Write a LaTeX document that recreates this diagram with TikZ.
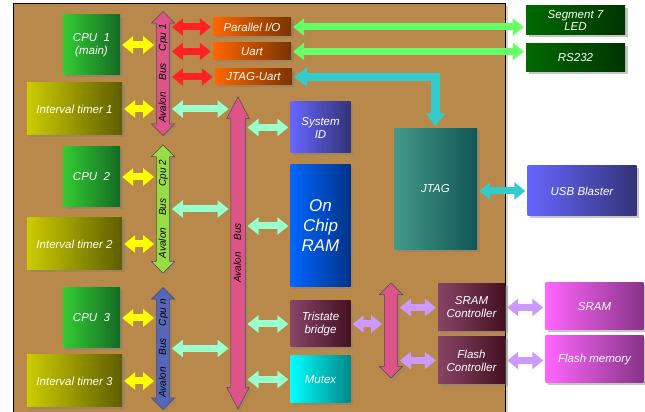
\documentclass[tikz,border=0pt]{standalone}
\usepackage{fontspec}
\setmainfont{Liberation Sans}
\usetikzlibrary{arrows.meta,shapes.arrows,shadows}

\definecolor{board}{HTML}{B8894B}
\definecolor{cpuL}{HTML}{33CC33}\definecolor{cpuR}{HTML}{146A24}
\definecolor{timL}{HTML}{CCCC00}\definecolor{timR}{HTML}{5E5E00}
\definecolor{ioL}{HTML}{FF6600}\definecolor{ioR}{HTML}{7A3300}
\definecolor{extL}{HTML}{006A00}\definecolor{extR}{HTML}{003300}
\definecolor{jtL}{HTML}{449988}\definecolor{jtR}{HTML}{115555}
\definecolor{idL}{HTML}{6666FF}\definecolor{idR}{HTML}{333377}
\definecolor{ramL}{HTML}{0066FF}\definecolor{ramR}{HTML}{003388}
\definecolor{ctlL}{HTML}{884466}\definecolor{ctlR}{HTML}{441122}
\definecolor{mxL}{HTML}{00FFFF}\definecolor{mxR}{HTML}{008888}
\definecolor{memL}{HTML}{FF66FF}\definecolor{memR}{HTML}{883388}
\definecolor{busPink}{HTML}{DD5588}
\definecolor{busGreen}{HTML}{99DD44}
\definecolor{busBlue}{HTML}{5566BB}
\definecolor{lnkYellow}{HTML}{FFFF00}
\definecolor{lnkRed}{HTML}{FF2222}
\definecolor{lnkGreen}{HTML}{66FF66}
\definecolor{lnkCyan}{HTML}{33CCCC}
\definecolor{lnkMint}{HTML}{99FFCC}
\definecolor{lnkLilac}{HTML}{CC99FF}

\tikzset{
  box/.style={inner sep=1pt, align=center, text=white,
    font=\itshape\fontsize{11.5}{13}\selectfont,
    drop shadow={shadow xshift=2.5pt, shadow yshift=-2.5pt, opacity=.45}},
  sz/.style 2 args={minimum width=#1pt, minimum height=#2pt},
  shade/.style 2 args={left color=#1, right color=#2},
  bus/.style={shape=double arrow, double arrow head extend=5pt, fill=#1,
    draw=black!70, line width=.5pt, rotate=90, inner sep=1.6pt,
    text height=7.6pt, text depth=2pt,
    font=\itshape\fontsize{10}{10}\selectfont,
    drop shadow={shadow xshift=2pt, shadow yshift=-2pt, opacity=.4}},
  link/.style={draw=#1, line width=7pt,
    {Triangle[width=17pt,length=11pt]}-{Triangle[width=17pt,length=11pt]},
    shorten <=2pt, shorten >=2pt},
}

\begin{document}
\begin{tikzpicture}[x=1pt, y=1pt]
  \useasboundingbox (0,0) rectangle (645,412);
  \draw[fill=board, line width=.6pt,
    drop shadow={shadow xshift=3pt, shadow yshift=-3pt, opacity=.35}]
    (13,409) rectangle (505,-5);

  % processors and timers
  \node[box, shade={cpuL}{cpuR}, sz={57}{60}] (C1) at (91.5,367) {CPU\ \ 1\\(main)};
  \node[box, shade={timL}{timR}, sz={95}{52}] (T1) at (74.5,303) {Interval timer 1};
  \node[box, shade={cpuL}{cpuR}, sz={57}{60}] (C2) at (91.5,235) {CPU\ \ 2};
  \node[box, shade={timL}{timR}, sz={95}{52}] (T2) at (74.5,168) {Interval timer 2};
  \node[box, shade={cpuL}{cpuR}, sz={57}{60}] (C3) at (91.5,94) {CPU\ \ 3};
  \node[box, shade={timL}{timR}, sz={95}{52}] (T3) at (74.5,31) {Interval timer 3};

  % buses
  \node[bus=busPink, minimum height=124pt] (B1) at (163,338.5)
    {Avalon\hskip12pt Bus\hskip12pt Cpu 1};
  \node[bus=busGreen, minimum height=128pt] (B2) at (163,203)
    {Avalon\hskip12pt Bus\hskip12pt Cpu 2};
  \node[bus=busBlue, minimum height=122pt] (B3) at (163,63.5)
    {Avalon\hskip12pt Bus\hskip12pt Cpu n};
  \node[bus=busPink, minimum height=312pt, inner sep=2.2pt,
    double arrow head extend=4pt, double arrow tip angle=55] (MB) at (238,159)
    {Avalon\hskip12pt Bus};
  \node[bus=busPink, minimum height=95pt] (SB) at (391,81.5) {};

  % peripherals
  \node[box, shade={ioL}{ioR}, sz={78}{18}] (PIO) at (252,385) {Parallel I/O};
  \node[box, shade={ioL}{ioR}, sz={78}{17}] (UA) at (252,360.5) {Uart};
  \node[box, shade={ioL}{ioR}, sz={77}{16}] (JU) at (253.5,335) {JTAG-Uart};
  \node[box, shade={extL}{extR}, sz={99}{29}, font=\itshape\fontsize{11.5}{12.5}\selectfont]
    (LED) at (575.5,391.5) {Segment 7\\LED};
  \node[box, shade={extL}{extR}, sz={99}{28}] (RS) at (575.5,354) {RS232};
  \node[box, shade={jtL}{jtR}, sz={83}{121}] (JT) at (435.5,223) {JTAG};
  \node[box, shade={idL}{idR}, sz={109}{50}] (USB) at (582,221) {USB Blaster};
  \node[box, shade={idL}{idR}, sz={60}{51}] (SID) at (320.5,284.5) {System\\ID};
  \node[box, shade={ramL}{ramR}, sz={60}{122}, font=\itshape\fontsize{17}{20}\selectfont]
    (RAM) at (320.5,186) {On\\Chip\\RAM};
  \node[box, shade={ctlL}{ctlR}, sz={60}{46}] (TB) at (320.5,88) {Tristate\\bridge};
  \node[box, shade={mxL}{mxR}, sz={60}{47}] (MX) at (320.5,32.5) {Mutex};
  \node[box, shade={ctlL}{ctlR}, sz={67}{47}] (SC) at (471.5,104.5) {SRAM\\Controller};
  \node[box, shade={ctlL}{ctlR}, sz={67}{47}] (FC) at (471.5,51.5) {Flash\\Controller};
  \node[box, shade={memL}{memR}, sz={98}{47}] (SR) at (594.5,105.5) {SRAM};
  \node[box, shade={memL}{memR}, sz={98}{47}] (FM) at (594.5,52.5) {Flash memory};

  % links
  \draw[link=lnkYellow] (C1.east) -- (C1.east -| B1.north);
  \draw[link=lnkYellow] (T1.east) -- (T1.east -| B1.north);
  \draw[link=lnkYellow] (C2.east) -- (C2.east -| B2.north);
  \draw[link=lnkYellow] (T2.east) -- (T2.east -| B2.north);
  \draw[link=lnkYellow] (C3.east) -- (C3.east -| B3.north);
  \draw[link=lnkYellow] (T3.east) -- (T3.east -| B3.north);

  \draw[link=lnkRed] (B1.south |- PIO) -- (PIO.west);
  \draw[link=lnkRed] (B1.south |- UA) -- (UA.west);
  \draw[link=lnkRed] (B1.south |- JU) -- (JU.west);
  \draw[link=lnkGreen] (PIO.east) -- (PIO.east -| LED.west);
  \draw[link=lnkGreen] (UA.east) -- (UA.east -| RS.west);
  \draw[link=lnkCyan, line width=8.5pt,
    {Triangle[width=19pt,length=13pt]}-{Triangle[width=19pt,length=13pt]}]
    (JU.east) -| (JT.north);
  \draw[link=lnkCyan] (JT.east |- USB) -- (USB.west);

  \draw[link=lnkMint] (B1.south |- T1) -- (T1 -| MB.north);
  \draw[link=lnkMint] (B2.south) -- (B2.south -| MB.north);
  \draw[link=lnkMint] (B3.south) -- (B3.south -| MB.north);
  \draw[link=lnkMint] (MB.south |- SID) -- (SID.west);
  \draw[link=lnkMint] (MB.south |- RAM) -- (RAM.west);
  \draw[link=lnkMint] (MB.south |- TB) -- (TB.west);
  \draw[link=lnkMint] (MB.south |- MX) -- (MX.west);

  \draw[link=lnkLilac] (TB.east) -- (TB.east -| SB.north);
  \draw[link=lnkLilac] (SB.south |- SC) -- (SC.west);
  \draw[link=lnkLilac] (SB.south |- FC) -- (FC.west);
  \draw[link=lnkLilac] (SC.east) -- (SC.east -| SR.west);
  \draw[link=lnkLilac] (FC.east) -- (FC.east -| FM.west);
\end{tikzpicture}
\end{document}
